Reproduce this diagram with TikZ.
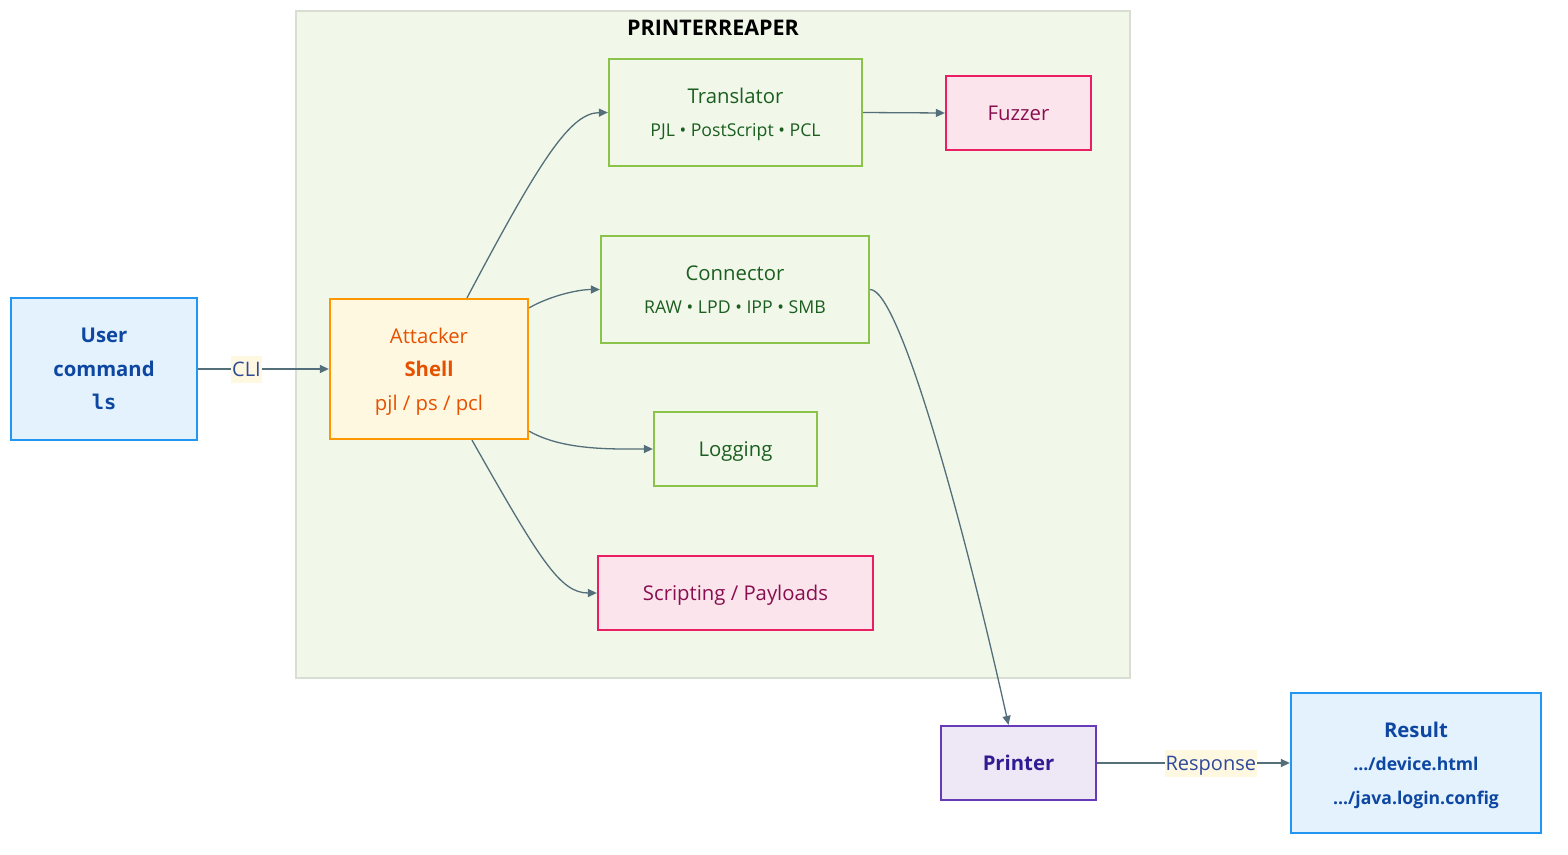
\documentclass[tikz,border=0pt]{standalone}
\usepackage{fontspec}
\setmainfont{Open Sans}
\setmonofont{DejaVu Sans Mono}
\usetikzlibrary{arrows.meta}
\definecolor{clfill}{HTML}{F1F8E9}
\definecolor{clborder}{HTML}{D8DED2}
\definecolor{bluefill}{HTML}{E3F2FD}
\definecolor{blueborder}{HTML}{2196F3}
\definecolor{bluetext}{HTML}{0D47A1}
\definecolor{orfill}{HTML}{FFF8E1}
\definecolor{orborder}{HTML}{FF9800}
\definecolor{ortext}{HTML}{E65100}
\definecolor{grborder}{HTML}{8BC34A}
\definecolor{grtext}{HTML}{1B5E20}
\definecolor{pkfill}{HTML}{FCE4EC}
\definecolor{pkborder}{HTML}{E91E63}
\definecolor{pktext}{HTML}{880E4F}
\definecolor{pufill}{HTML}{EDE7F6}
\definecolor{puborder}{HTML}{673AB7}
\definecolor{putext}{HTML}{311B92}
\definecolor{edge}{HTML}{546E7A}
\definecolor{lblfill}{HTML}{FFF8E1}
\definecolor{lbltext}{HTML}{2F4A9A}
\tikzset{
  base/.style={draw, line width=2.3pt, inner sep=0pt, align=center, text depth=0pt,
    font=\fontsize{20.3}{33.5}\selectfont},
  bluebox/.style={base, fill=bluefill, draw=blueborder, text=bluetext},
  orbox/.style={base, fill=orfill, draw=orborder, text=ortext},
  grbox/.style={base, fill=clfill, draw=grborder, text=grtext},
  pkbox/.style={base, fill=pkfill, draw=pkborder, text=pktext},
  pubox/.style={base, fill=pufill, draw=puborder, text=putext},
  conn/.style={draw=edge, line width=1.3pt, -{Triangle[length=9pt,width=8pt]}},
  lbl/.style={fill=lblfill, text=lbltext, inner xsep=1pt, inner ysep=0pt,
    text height=21pt, text depth=6pt, font=\fontsize{20}{24}\selectfont}
}
\newcommand{\subtxt}[1]{{\fontsize{17.7}{34}\selectfont #1}}
\newcommand{\restxt}[1]{{\fontsize{17.6}{33.5}\selectfont\bfseries #1}}
\begin{document}
\begin{tikzpicture}[x=1pt,y=-1pt]
\useasboundingbox (0,0) rectangle (1568,854);
\fill[white] (0,0) rectangle (1568,854);
% cluster
\draw[fill=clfill, draw=clborder, line width=1.2pt] (296,11) rectangle (1130,678);
\node[font=\fontsize{21.5}{24}\selectfont\bfseries, text=black] (title) at (713,28) {PRINTERREAPER};

\node[bluebox, minimum width=186pt, minimum height=142pt] (user) at (104,369)
  {\textbf{User}\\\textbf{command}\\{\ttfamily\bfseries ls}};
\node[orbox, minimum width=198pt, minimum height=140pt] (attacker) at (429,369)
  {Attacker\\\textbf{Shell}\\pjl / ps / pcl};
\node[grbox, minimum width=253pt, minimum height=107pt] (translator) at (735.5,112.5)
  {Translator\\\subtxt{PJL • PostScript • PCL}};
\node[pkbox, minimum width=145pt, minimum height=74pt] (fuzzer) at (1018.5,113)
  {Fuzzer};
\node[grbox, minimum width=268pt, minimum height=107pt] (connector) at (735,289.5)
  {Connector\\\subtxt{RAW • LPD • IPP • SMB}};
\node[grbox, minimum width=163pt, minimum height=74pt] (logging) at (735.5,449)
  {Logging};
\node[pkbox, minimum width=275pt, minimum height=74pt] (scripting) at (735.5,593)
  {Scripting / Payloads};
\node[pubox, minimum width=155pt, minimum height=74pt] (printer) at (1018.5,763)
  {\textbf{Printer}};
\node[bluebox, minimum width=250pt, minimum height=140pt] (result) at (1416,763)
  {\textbf{Result}\\\restxt{.../device.html}\\\restxt{.../java.login.config}};

% connectors
\draw[conn] (user.east) -- node[lbl, pos=0.37] {CLI} (attacker.west);
\draw[conn] ([xshift=38pt]attacker.north) .. controls (540,160) and (570,113) .. (translator.west);
\draw[conn] ([yshift=-10pt]attacker.north east) to[out=30,in=180,looseness=0.8] (connector.west);
\draw[conn] ([yshift=9pt]attacker.south east) to[out=-30,in=180,looseness=0.8] (logging.west);
\draw[conn] ([xshift=43pt]attacker.south) .. controls (540,560) and (560,593) .. (scripting.west);
\draw[conn] (translator.east) -- (fuzzer.west);
\draw[conn] (connector.east) .. controls (900,289.5) and (965,530) .. ([xshift=-10pt]printer.north);
\draw[conn] (printer.east) -- node[lbl, pos=0.59] {Response} (result.west);
\end{tikzpicture}
\end{document}
